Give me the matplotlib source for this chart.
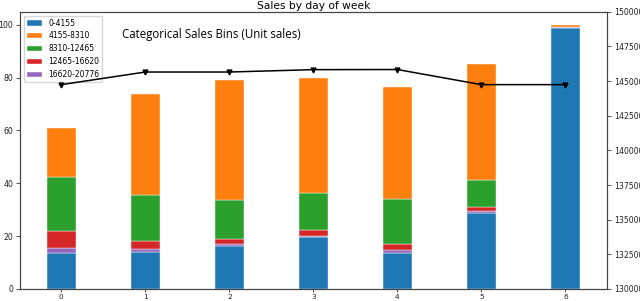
import matplotlib
matplotlib.use("Agg")
import matplotlib.pyplot as plt
import numpy as np

days = [0, 1, 2, 3, 4, 5, 6]
labels = ["0-4155", "4155-8310", "8310-12465", "12465-16620", "16620-20776"]
colors = ["#1f77b4", "#ff7f0e", "#2ca02c", "#d62728", "#9467bd"]

bin_0 = [13.6, 14.1, 16.3, 19.6, 13.7, 28.9, 98.8]
bin_1 = [18.6, 38.2, 45.3, 43.8, 42.5, 44.1, 0.7]
bin_2 = [20.4, 17.5, 14.9, 13.8, 17.1, 10.3, 0.05]
bin_3 = [6.3, 3.0, 1.9, 2.3, 2.2, 1.5, 0.2]
bin_4 = [2.0, 1.0, 0.7, 0.5, 1.0, 0.5, 0.2]

unit_sales = [144740, 145650, 145650, 145820, 145830, 144740, 144740]

fig, ax = plt.subplots(figsize=(6.4, 3.01), dpi=100)
fig.subplots_adjust(left=20/640, right=606.7/640, top=1-11.7/301, bottom=1-289/301)

x = np.array(days)
w = 0.35
b0 = np.array(bin_0); b1 = np.array(bin_1); b2 = np.array(bin_2)
b3 = np.array(bin_3); b4 = np.array(bin_4)
kw = dict(edgecolor="white", linewidth=0.3)
h0 = ax.bar(x, b0, w, color=colors[0], label=labels[0], **kw)
h4 = ax.bar(x, b4, w, bottom=b0, color=colors[4], label=labels[4], **kw)
h3 = ax.bar(x, b3, w, bottom=b0+b4, color=colors[3], label=labels[3], **kw)
h2 = ax.bar(x, b2, w, bottom=b0+b4+b3, color=colors[2], label=labels[2], **kw)
h1 = ax.bar(x, b1, w, bottom=b0+b4+b3+b2, color=colors[1], label=labels[1], **kw)

ax.set_xticks(days)
ax.tick_params(axis="y", labelsize=5.6, length=3, width=0.6, pad=2, colors="#333333", labelcolor="#222222")
ax.tick_params(axis="x", labelsize=5.3, length=2.5, width=0.6, pad=1, colors="#333333", labelcolor="#222222")
ax.legend([h0, h1, h2, h3, h4], labels, loc="upper left", fontsize=5.5)
ax.set_title("Sales by day of week", fontsize=7.7, pad=2)
ax.text(0.326, 0.916, "Categorical Sales Bins (Unit sales)", transform=ax.transAxes,
        ha="center", va="center", fontsize=8.3, family="Open Sans")

ax2 = ax.twinx()
ax2.plot(days, unit_sales, color="black", marker="v", markersize=3.5, linewidth=1.1)
ax2.set_ylim(130000, 150000)
ax2.set_yticks(np.arange(130000, 150001, 2500))
ax2.tick_params(labelsize=5.6, length=3, width=0.6, pad=2, colors="#333333", labelcolor="#222222")

for a in (ax, ax2):
    for s in a.spines.values():
        s.set_color("#444444")
        s.set_linewidth(0.8)

fig.savefig("out.png", dpi=100)
